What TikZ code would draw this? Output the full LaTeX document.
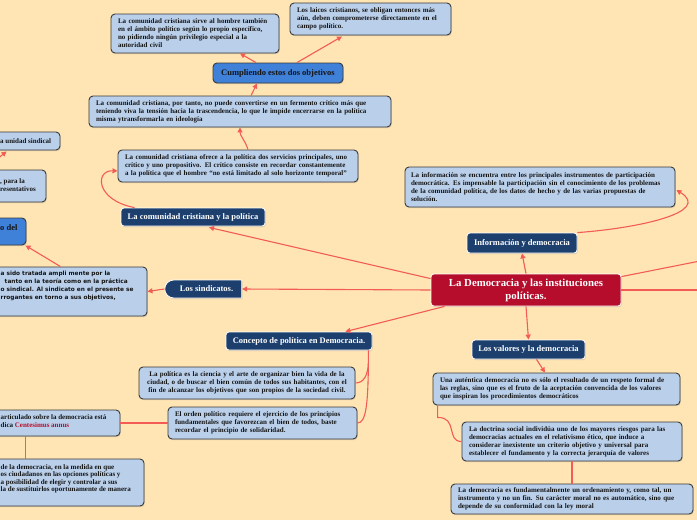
\documentclass[tikz,border=0pt]{standalone}
\usepackage{fontspec}
\setmainfont{Liberation Serif}
\newfontfamily\dvsans{DejaVu Sans}
\usetikzlibrary{arrows.meta,calc,shadows,shapes.misc}
\definecolor{bgc}{HTML}{FFE5B4}
\definecolor{lightb}{HTML}{B9CFEA}
\definecolor{bordc}{HTML}{3A3A3A}
\definecolor{darkb}{HTML}{1C3F6E}
\definecolor{medb}{HTML}{3F80D8}
\definecolor{redc}{HTML}{B50D2B}
\definecolor{connc}{HTML}{F25C54}
\definecolor{txtc}{HTML}{151515}
\tikzset{
  shad/.style={drop shadow={shadow xshift=0.8pt,shadow yshift=-1.2pt,opacity=0.25}},
  lbox/.style={draw=bordc, line width=0.9pt, fill=lightb, rounded corners=4pt, shad,
    inner sep=0pt, font=\fontsize{7}{8}\selectfont\bfseries, text=txtc, align=left},
  dbox/.style={draw=white, line width=0.8pt, fill=darkb, rounded corners=3pt, shad,
    text=white, font=\fontsize{8.5}{10}\selectfont\bfseries, inner sep=0pt},
  mbox/.style={draw=bordc, line width=0.9pt, fill=medb, rounded corners=4pt, shad,
    text=txtc, font=\fontsize{8.5}{10}\selectfont\bfseries, inner sep=0pt},
  ftxt/.style={inner sep=0pt, text=txtc, font=\fontsize{7}{8}\selectfont\bfseries, align=left},
  conn/.style={draw=connc, line width=1.1pt},
  arr/.style={conn, -{Triangle[length=5pt,width=5pt]}},
}
\begin{document}
\begin{tikzpicture}[x=1pt,y=-1pt]
\fill[bgc] (0,0) rectangle (697,520);
\useasboundingbox (0,0) rectangle (697,520);
\clip (0,0) rectangle (697,520);

% ---------- nodes ----------
\node[lbox, minimum width=168pt, minimum height=39pt, text width=154pt] (t1) at (195,33.5)
 {La comunidad cristiana sirve al hombre también\\en el ámbito político según lo propio específico,\\no pidiendo ningún privilegio especial a la\\autoridad civil};
\node[lbox, minimum width=161pt, minimum height=32pt, text width=147pt] (t2) at (370.5,19)
 {Los laicos cristianos, se obligan entonces más\\aún, deben comprometerse directamente en el\\campo político.};
\node[mbox, minimum width=130pt, minimum height=20pt] (cump) at (278,73) {Cumpliendo estos dos objetivos};
\node[lbox, minimum width=302pt, minimum height=31pt, text width=288pt] (t3) at (240,111.5)
 {La comunidad cristiana, por tanto, no puede convertirse en un fermento crítico más que\\teniendo viva la tensión hacia la trascendencia, lo que le impide encerrarse en la política\\misma ytransformarla en ideología};
\node[lbox, minimum width=240pt, minimum height=32pt, text width=226pt] (t4) at (238,166)
 {La comunidad cristiana ofrece a la política dos servicios principales, uno\\crítico y uno propositivo. El crítico consiste en recordar constantemente\\a la política que el hombre “no está limitado al solo horizonte temporal”};
\node[dbox, minimum width=144pt, minimum height=18pt] (cc) at (193,217) {La comunidad cristiana y la política};

% left partial boxes
\node[lbox, minimum width=100pt, minimum height=18pt] (left1) at (10,141) {};
\node[ftxt, anchor=west] (left1t) at (0,141) {a unidad sindical};
\node[lbox, minimum width=106pt, minimum height=32pt] (left2) at (-7,186) {};
\node[ftxt, anchor=north west] (left2t) at (0,178.5) {, para la\\resentativos};
\node[mbox, minimum width=86pt, minimum height=27pt] (left3) at (-17,231.5) {};
\node[inner sep=0pt, text=txtc, font=\fontsize{8.5}{10}\selectfont\bfseries, anchor=west] (left3t) at (0,228) {o del};
\node[lbox, minimum width=207pt, minimum height=49pt] (sbox) at (43.5,291.5) {};
\node[inner sep=0pt, text=txtc, font=\dvsans\fontsize{5.8}{8}\selectfont\bfseries, align=left, anchor=north west] (sboxt) at (0.5,270.5)
 {a sido tratada ampli mente por la\\\ \ tanto en la teoría como en la práctica\\o sindical. Al sindicato en el presente se\\rrogantes en torno a sus objetivos,};
\node[lbox, minimum width=180pt, minimum height=26pt] (centb) at (30,423) {};
\node[ftxt, anchor=north west] (centbt) at (0.5,414.5) {articulado sobre la democracia está\\dica \textcolor{redc}{Centesimus annus}};
\node[lbox, minimum width=204pt, minimum height=47pt] (blb) at (42,482.5) {};
\node[ftxt, font=\fontsize{7}{7.3}\selectfont\bfseries, anchor=north west] (blbt) at (0.5,464.5)
 {de la democracia, en la medida en que\\os ciudadanos en las opciones políticas y\\a posibilidad de elegir y controlar a sus\\la de sustituirlos oportunamente de manera};

% centre
\node[draw=white, line width=0.8pt, fill=redc, rounded corners=3pt, shad, text=white,
  font=\fontsize{10.8}{13}\selectfont\bfseries, align=center, minimum width=190pt, minimum height=32pt, inner sep=0pt] (central) at (526,290)
 {La Democracia y las instituciones\\políticas.};
\node[dbox, minimum width=110pt, minimum height=20pt] (infod) at (522,243) {Información y democracia};
\node[lbox, minimum width=270pt, minimum height=40pt, text width=258pt] (infob) at (540,187)
 {La información se encuentra entre los principales instrumentos de participación\\democrática. Es impensable la participación sin el conocimiento de los problemas\\de la comunidad política, de los datos de hecho y de las varias propuestas de\\solución.};
\node[dbox, rounded rectangle, rounded rectangle right arc=none, rounded corners=0pt, minimum width=77pt, minimum height=18pt] (sind) at (203.5,289) {\hspace{6pt}Los sindicatos.};
\node[dbox, minimum width=146pt, minimum height=18pt] (concept) at (299,341) {Concepto de política en Democracia.};
\node[lbox, align=center, minimum width=216pt, minimum height=32pt, text width=206pt] (pA) at (247,383)
 {La política es la ciencia y el arte de organizar bien la vida de la\\ciudad, o de buscar el bien común de todos sus habitantes, con el\\fin de alcanzar los objetivos que son propios de la sociedad civil.};
\node[lbox, minimum width=189pt, minimum height=32pt, text width=175pt] (pB) at (262.5,423)
 {El orden político requiere el ejercicio de los principios\\fundamentales que favorezcan el bien de todos, baste\\recordar el principio de solidaridad.};
\node[dbox, minimum width=113pt, minimum height=19pt] (valores) at (528.5,349.5) {Los valores y la democracia};
\node[lbox, minimum width=247pt, minimum height=32pt, text width=233pt] (v1) at (556.5,389)
 {Una auténtica democracia no es sólo el resultado de un respeto formal de\\las reglas, sino que es el fruto de la aceptación convencida de los valores\\que inspiran los procedimientos democráticos};
\node[lbox, minimum width=220pt, minimum height=39pt, text width=206pt] (v2) at (572,441.5)
 {La doctrina social individúa uno de los mayores riesgos para las\\democracias actuales en el relativismo ético, que induce a\\considerar inexistente un criterio objetivo y universal para\\establecer el fundamento y la correcta jerarquía de valores};
\node[lbox, minimum width=242pt, minimum height=30pt, text width=228pt] (v3) at (572,499)
 {La democracia es fundamentalmente un ordenamiento y, como tal, un\\instrumento y no un fin. Su carácter moral no es automático, sino que\\depende de su conformidad con la ley moral};

\coordinate (r1) at (700,290);
\coordinate (r2) at (700,261);
\coordinate (ofl) at (-4,160);

% ---------- connectors ----------
\draw[arr] ($(cump.north)+(-22,0)$) -- ($(t1.south)+(45,0)$);
\draw[arr] ($(cump.north)+(19,0)$) -- ($(t2.south)+(-28.5,1)$);
\draw[arr] ($(t3.north)+(11,0)$) -- ($(cump.south)+(-21,0)$);
\draw[arr] ($(t4.north)+(10,0)$) .. controls (245,140) and (240,136) .. (t3.south);
\draw[arr] ($(cc.north west)+(14,0)$) .. controls (95,200) and (95,170) .. ($(t4.west)+(0,5)$);
\draw[arr] ($(central.north west)+(0,5)$) -- ($(cc.south)+(16,1)$);
\draw[arr] (central.west) -- (sind.east);
\draw[arr] ($(central.south west)+(14,0)$) -- ($(concept.north east)+(-27,0)$);
\draw[arr] (central.north) -- (infod.south);
\draw[arr] (infod.north east) .. controls (640,228) and (712,212) .. ($(infob.east)+(1,3)$);
\draw[conn] (central.east) -- (r1);
\draw[conn] ($(central.north east)+(0,3)$) -- (r2);
\draw[arr] (central.south) -- (valores.north);
\draw[arr] ($(valores.south)+(8,0)$) -- ($(v1.north)+(-11.5,0)$);
\draw[conn] ($(v1.south west)+(5,0)$) -- ++(0,12) .. controls (458,417) and (446,441.5) .. (v2.west);
\draw[conn] (v2.south) -- (v3.north);
\draw[arr] (sind.west) -- (sbox.east);
\draw[arr] ($(sbox.north east)+(-87,0)$) -- ($(left3.south east)+(-1,0)$);
\draw[arr] (ofl) -- ($(left1.south west)+(47,1)$);
\draw[conn] ($(concept.south east)+(-4,0)$) -- ++(0,12) coordinate (cj) .. controls (368,375) and (364,383) .. (pA.east);
\draw[conn] (cj) .. controls (368,405) and (366,423) .. (pB.east);
\draw[conn] (pB.west) -- (centb.east);
\draw[conn] ($(centb.south east)+(-95,0)$) -- ($(blb.north east)+(-119,0)$);
\end{tikzpicture}
\end{document}
